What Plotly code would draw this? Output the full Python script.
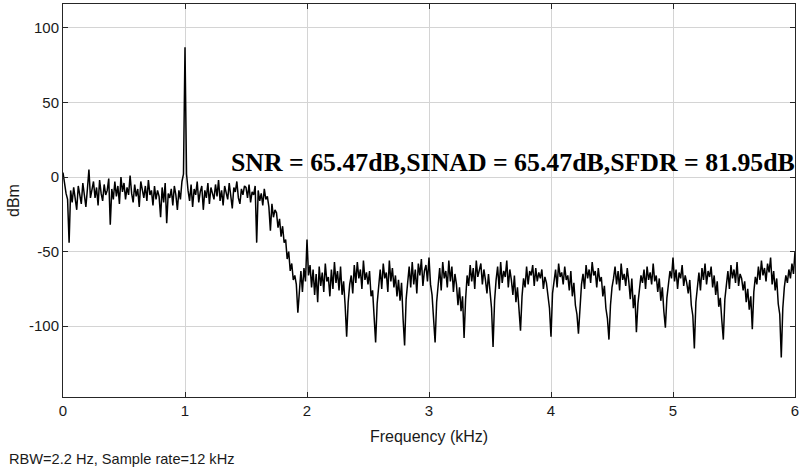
import numpy as np
import plotly.graph_objects as go

# ---- data ----
freq_start_khz = 0.0
freq_step_khz = 0.0125

level_dbm = [
    # 0.00 - 0.2375
    3, -6, -11, -15, -44, -9, -17, -7, -13, -22, -6, -12, -18, -4, -11, -20, -8, 5, -14, -9,
    # 0.25 - 0.4875
    -3, -14, -7, -19, -2, -11, -16, -5, -12, -9, -1, -32, -8, -15, -3, -13, -6, -18, 0, -10,
    # 0.50 - 0.7375
    -4, -15, -7, -12, 1, -11, -17, -5, -13, -8, -20, -3, -10, -14, -6, -16, -2, -12, -9, -19,
    # 0.75 - 0.9875
    -6, -15, -9, -13, -27, -7, -17, -4, -31, -11, -14, -8, -19, -6, -12, -22, -9, -15, -3, 2,
    # 1.00 - 1.2375
    87, 2, -9, -16, -5, -20, -8, -12, -3, -17, -10, -6, -22, -9, -14, -4, -18, -7, -11, -15,
    # 1.25 - 1.4875
    -5, -13, -2, -16, -9, -19, -6, -11, -15, -4, -12, -21, -7, -10, -3, -14, -18, -8, -12, -6,
    # 1.50 - 1.7375
    -7, -14, -5, -17, -10, -12, -6, -44, -9, -16, -11, -19, -8, -15, -13, -20, -36, -18, -27, -22,
    # 1.75 - 1.9875
    -24, -34, -28, -40, -33, -44, -42, -55, -50, -63, -58, -69, -66, -72, -91, -74, -63, -77, -61, -70,
    # 2.00 - 2.2375
    -42, -66, -59, -74, -62, -79, -65, -84, -60, -73, -64, -77, -58, -70, -67, -80, -62, -75, -57, -71,
    # 2.25 - 2.4875
    -63, -76, -60, -79, -70, -86, -107, -84, -72, -66, -78, -59, -71, -57, -68, -62, -75, -56, -69, -64,
    # 2.50 - 2.7375
    -72, -63, -80, -76, -92, -111, -85, -70, -62, -75, -58, -68, -64, -77, -56, -70, -61, -74, -66, -80,
    # 2.75 - 2.9875
    -69, -83, -71, -95, -113, -82, -68, -60, -74, -57, -72, -62, -78, -58, -66, -55, -73, -63, -59, -70,
    # 3.00 - 3.2375
    -54, -72, -79, -96, -111, -84, -70, -61, -76, -57, -68, -63, -74, -56, -70, -60, -77, -65, -72, -86,
    # 3.25 - 3.4875
    -74, -90, -80, -108, -82, -66, -73, -59, -70, -61, -75, -56, -67, -63, -58, -72, -62, -69, -78, -65,
    # 3.50 - 3.7375
    -76, -88, -114, -83, -69, -60, -75, -57, -71, -63, -67, -56, -74, -62, -69, -79, -66, -84, -74, -93,
    # 3.75 - 3.9875
    -103, -80, -68, -74, -60, -72, -63, -66, -59, -73, -61, -70, -64, -68, -62, -75, -67, -71, -80, -88,
    # 4.00 - 4.2375
    -107, -78, -70, -62, -74, -58, -67, -64, -72, -60, -69, -66, -76, -63, -80, -71, -86, -92, -105, -84,
    # 4.25 - 4.4875
    -72, -65, -75, -59, -68, -62, -71, -57, -66, -63, -74, -61, -70, -67, -80, -73, -88, -95, -109, -86,
    # 4.50 - 4.7375
    -74, -68, -60, -72, -63, -76, -58, -69, -65, -73, -61, -70, -82, -68, -88, -79, -104, -85, -73, -66,
    # 4.75 - 4.9875
    -71, -62, -75, -60, -69, -64, -72, -58, -70, -66, -77, -68, -83, -74, -90, -101, -81, -72, -63, -68,
    # 5.00 - 5.2375
    -54, -70, -62, -75, -64, -68, -59, -73, -66, -71, -78, -69, -86, -93, -115, -84, -72, -64, -76, -61,
    # 5.25 - 5.4875
    -69, -58, -72, -63, -67, -60, -74, -66, -79, -70, -87, -81, -96, -109, -82, -70, -63, -75, -59, -68,
    # 5.50 - 5.7375
    -62, -71, -57, -73, -65, -68, -76, -70, -84, -75, -89, -80, -102, -77, -67, -72, -60, -69, -56, -66,
    # 5.75 - 5.9875
    -61, -70, -58, -64, -54, -72, -63, -76, -68, -85, -92, -121, -88, -74, -66, -71, -62, -68, -58, -65,
    # 6.00
    -50,
]

freq_khz = freq_start_khz + freq_step_khz * np.arange(len(level_dbm))

x_ticks = [0, 1, 2, 3, 4, 5, 6]
x_tick_labels = ["0", "1", "2", "3", "4", "5", "6"]
y_ticks = [-100, -50, 0, 50, 100]
y_tick_labels = ["-100", "-50", "0", "50", "100"]

metrics_text = "SNR = 65.47dB,SINAD = 65.47dB,SFDR = 81.95dB"
footer_text = "RBW=2.2 Hz, Sample rate=12 kHz"

SANS = "Liberation Sans, Arial"

fig = go.Figure()
fig.add_trace(go.Scatter(
    x=freq_khz, y=level_dbm, mode="lines",
    line=dict(color="black", width=1.5),
    showlegend=False,
))

axis_common = dict(
    showline=True, linecolor="#262626", linewidth=1, mirror="ticks",
    ticks="inside", ticklen=5, tickcolor="#262626",
    showgrid=True, gridcolor="#d4d4d4", gridwidth=1,
    zeroline=False, automargin=False,
    tickfont=dict(family=SANS, size=15, color="#1a1a1a"),
)

fig.update_xaxes(range=[0, 6], tickvals=x_ticks, ticktext=x_tick_labels,
                 title=dict(text="Frequency (kHz)", standoff=12,
                            font=dict(family=SANS, size=16, color="#1a1a1a")),
                 **axis_common)
fig.update_yaxes(range=[-147.5, 116], tickvals=y_ticks, ticktext=y_tick_labels,
                 title=dict(text="dBm", standoff=5,
                            font=dict(family=SANS, size=16, color="#1a1a1a")),
                 **axis_common)

fig.add_annotation(
    x=1.36, y=9.4, xref="x", yref="y", text="<b>" + metrics_text + "</b>",
    showarrow=False, xanchor="left", yanchor="middle",
    font=dict(family="Liberation Serif, Times New Roman", size=25.8, color="black"),
)
fig.add_annotation(
    x=0, y=0, xref="paper", yref="paper", xshift=-56, yshift=-72,
    text=footer_text, showarrow=False, xanchor="left", yanchor="bottom",
    font=dict(family=SANS, size=14.6, color="#1a1a1a"),
)

fig.update_layout(
    width=801, height=471,
    margin=dict(l=63, r=6, t=4, b=74),
    paper_bgcolor="white", plot_bgcolor="white",
)

fig.write_html("out.html", config={"displayModeBar": False},
               post_script="document.body.style.margin='0';")
